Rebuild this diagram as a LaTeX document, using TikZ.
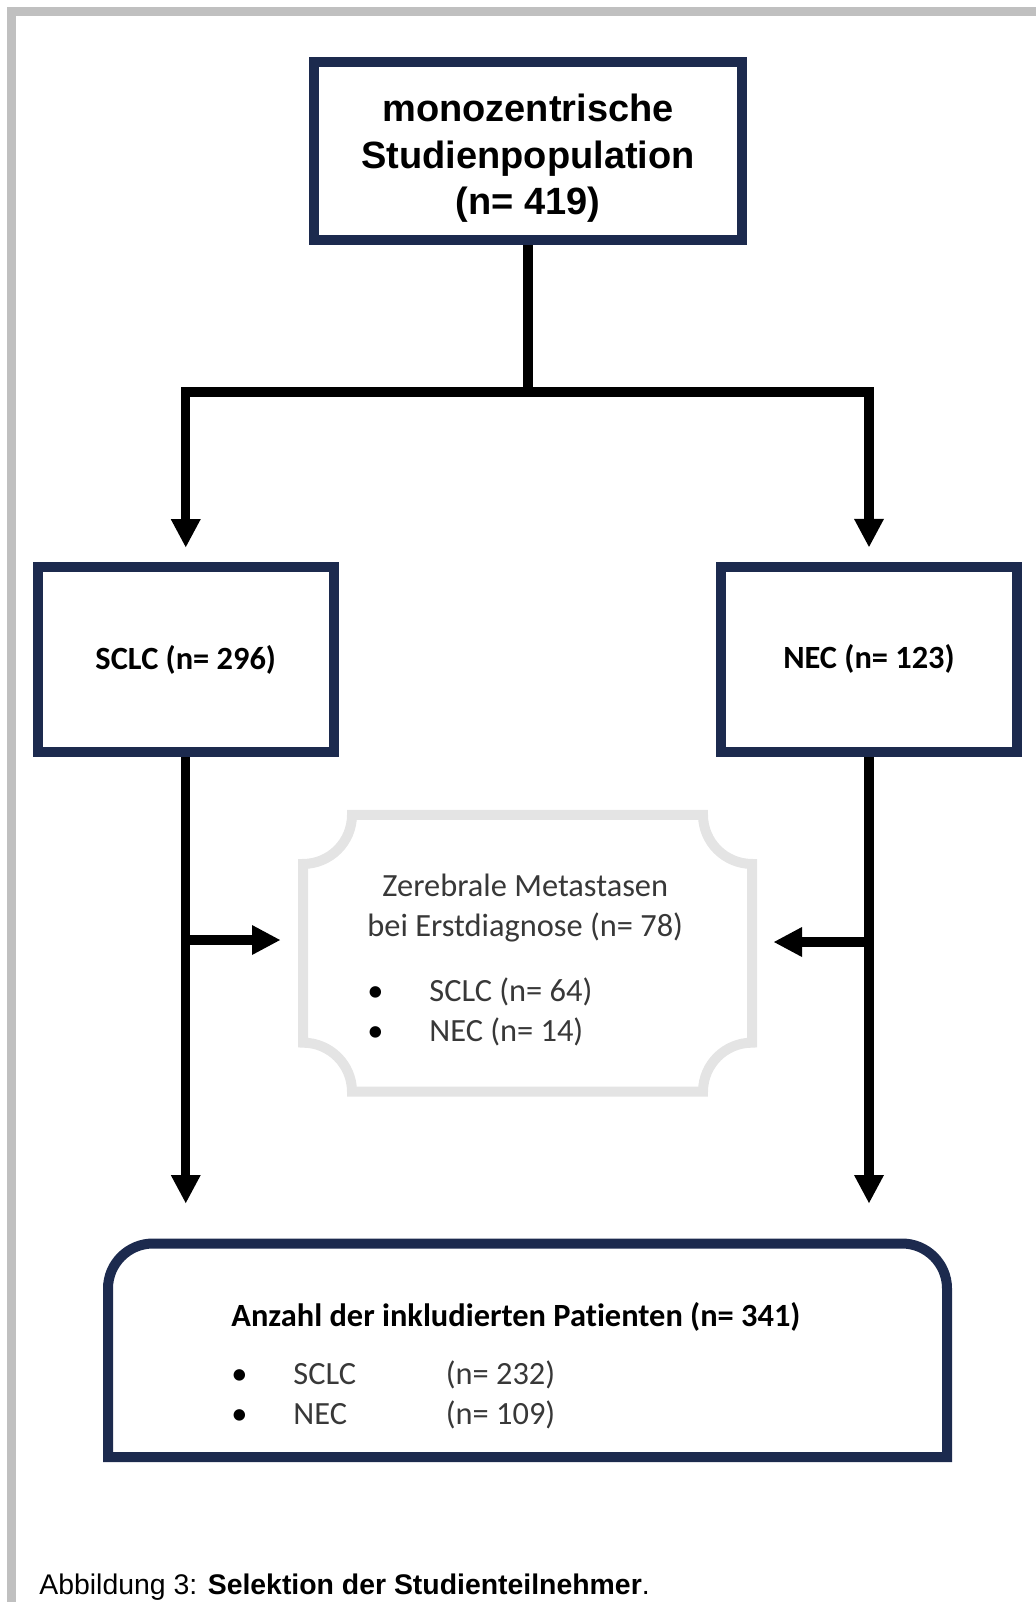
\documentclass[tikz,border=0pt]{standalone}
\usepackage{fontspec}
\setmainfont{Carlito}[Ligatures=NoCommon]
\newfontfamily\arialfont{Liberation Sans}
\usepackage{graphicx}
\usetikzlibrary{arrows.meta,calc}

\definecolor{navy}{HTML}{1C2A4E}
\definecolor{framegray}{HTML}{C0C0C0}
\definecolor{plaquegray}{HTML}{E4E4E4}
\definecolor{textgray}{HTML}{383838}

\newcommand{\itm}{\makebox[31pt][l]{\color{black}\textbullet}}

\begin{document}
\begin{tikzpicture}[x=0.5pt, y=-0.5pt,
    pageframe/.style={draw=framegray, line width=4.65pt},
    navyline/.style={draw=navy, line width=5pt},
    navybox/.style={navyline, minimum width=148pt, minimum height=92.8pt,
                    font=\bfseries\fontsize{16.2}{20}\selectfont},
    shapebox/.style={inner sep=0pt, outer sep=0pt},
    plaque/.style={draw=plaquegray, line width=5pt},
    bodytext/.style={inner sep=0pt, text=textgray,
                     font=\fontsize{16.2}{20}\selectfont},
    conn/.style={line width=4.65pt},
    arr/.style={conn, -{Triangle[length=14pt, width=15pt, line width=0pt]}}
  ]
  \useasboundingbox (0,0) rectangle (1036,1602);
  %% Page frame
  \draw[pageframe] (1036,11.5) -- (11.5,11.5) -- (11.5,1602);
  %% Study population
  \node[navybox, minimum width=214pt, minimum height=89.15pt] (pop) at (528,151) {};
  \node[align=center, font=\arialfont\bfseries\fontsize{19}{23.25}\selectfont]
    (poptxt) at (528,158.3) {monozentrische\\Studienpopulation\\(n= 419)};
  %% Tumour groups
  \node[navybox] (sclc) at (185.75,659.6) {SCLC (n= 296)};
  \node[navybox] (nec)  at (869,659.4) {NEC (n= 123)};
  %% Brain metastases (excluded)
  \node[shapebox, minimum width=224.5pt, minimum height=138.35pt] (met) at (527.5,953.3) {};
  \draw[plaque] ($(met.north west)+(49,0)$) -- ($(met.north east)-(49,0)$)
    arc[start angle=180, end angle=90, radius=49] -- ($(met.south east)-(0,49)$)
    arc[start angle=270, end angle=180, radius=49] -- ($(met.south west)+(49,0)$)
    arc[start angle=0, end angle=-90, radius=49] -- ($(met.north west)+(0,49)$)
    arc[start angle=90, end angle=0, radius=49] -- cycle;
  \node[bodytext, anchor=west] (mettxt) at (367,961) {\begin{tabular}{@{}l@{}}
      \multicolumn{1}{@{}c@{}}{Zerebrale Metastasen}\\
      bei Erstdiagnose (n= 78)\\[12.4pt]
      \itm SCLC (n= 64)\\
      \itm NEC (n= 14)
    \end{tabular}};
  %% Included patients
  \node[shapebox, minimum width=419.5pt, minimum height=106.75pt] (incl) at (527.5,1350.25) {};
  \draw[navyline] (incl.south west) -- ($(incl.north west)+(0,45)$)
    arc[start angle=180, end angle=270, radius=45] -- ($(incl.north east)-(45,0)$)
    arc[start angle=270, end angle=360, radius=45] -- (incl.south east) -- cycle;
  \node[bodytext, anchor=west] (incltxt) at (231,1367.5) {\begin{tabular}{@{}l@{}}
      \textbf{\color{black}Anzahl der inkludierten Patienten (n= 341)}\\[8.85pt]
      \itm\makebox[76.25pt][l]{SCLC}(n= 232)\\
      \itm\makebox[76.25pt][l]{NEC}(n= 109)
    \end{tabular}};
  %% Connectors
  \coordinate (split)  at (528,392);
  \coordinate (sclcbr) at (185.75,940);
  \coordinate (necbr)  at (869,942);
  \draw[conn] (pop.south) -- (split);
  \draw[arr, shorten >=7.35pt] (split) -| (sclc.north);
  \draw[arr, shorten >=7.35pt] (split) -| (nec.north);
  \draw[arr, shorten >=20.25pt] (sclc.south) -- (sclc.south |- incl.north);
  \draw[arr, shorten >=20.25pt] (nec.south) -- (nec.south |- incl.north);
  \draw[arr, shorten >=11.5pt] (sclcbr) -- (sclcbr -| met.west);
  \draw[arr, shorten >=11pt] (necbr) -- (necbr -| met.east);
  %% Caption
  \node[anchor=base west, inner sep=0pt, font=\arialfont\fontsize{14.2}{17}\selectfont]
    (caption) at (39,1594) {Abbildung 3: \textbf{Selektion der Studienteilnehmer}.};
\end{tikzpicture}
\end{document}
